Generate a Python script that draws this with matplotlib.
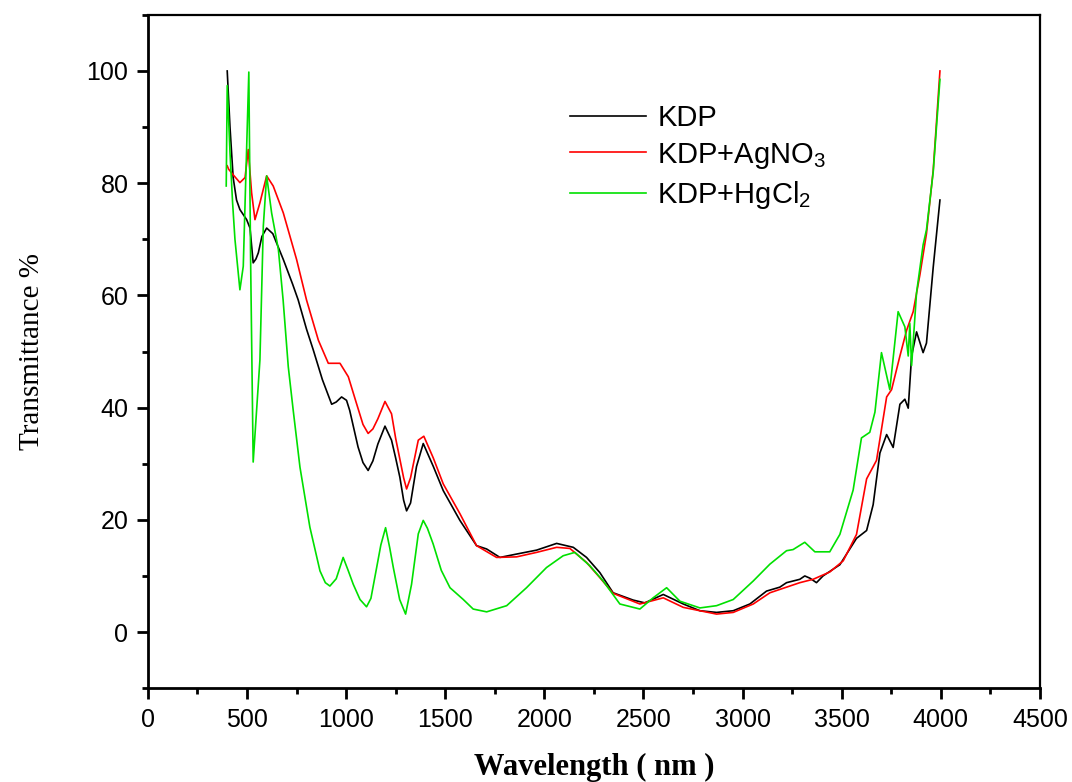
import numpy as np
import matplotlib.pyplot as plt

plt.rcParams['font.family'] = 'Liberation Sans'
plt.rcParams['mathtext.fontset'] = 'custom'
plt.rcParams['mathtext.rm'] = 'Liberation Sans'

# KDP
x_kdp = [400, 414, 430, 447, 464, 498, 515, 531, 545, 557, 575, 599, 630, 683, 730, 758,
         800, 834, 880, 927, 950, 977, 1002, 1018, 1060, 1085, 1111, 1135, 1160, 1196, 1229,
         1250, 1271, 1290, 1305, 1325, 1355, 1389, 1440, 1490, 1574, 1658, 1709, 1776,
         1860, 1961, 2062, 2146, 2213,
         2280, 2347, 2448, 2507, 2600, 2701, 2785, 2869, 2953, 3037, 3121, 3188, 3222,
         3289, 3314, 3340, 3373, 3406, 3491, 3575, 3626, 3659, 3693, 3727, 3760, 3794,
         3819, 3836, 3853, 3878, 3911, 3928, 3962, 3996]
y_kdp = [100, 90, 81, 77, 75.3, 73.5, 72, 65.8, 66.5, 67.6, 70.5, 72.0, 71, 66.4, 62, 59.2,
         54, 50.3, 45, 40.6, 41, 41.9, 41.3, 39.5, 33, 30.2, 28.8, 30.5, 33.5, 36.7, 34.2,
         31, 27.6, 23.5, 21.6, 23, 29.5, 33.6, 29.5, 25.2, 19.9, 15.4, 14.8, 13.3,
         13.9, 14.6, 15.8, 15.1, 13.3,
         10.6, 7.0, 5.7, 5.2, 6.7, 5.0, 3.8, 3.5, 3.8, 5.0, 7.3, 8.0, 8.8,
         9.4, 10.0, 9.6, 8.8, 10.0, 12.0, 16.7, 18.1, 22.7, 31.9, 35.2, 32.9, 40.6,
         41.5, 39.9, 49.2, 53.5, 49.8, 51.5, 65, 77]

# KDP + AgNO3
x_ag = [400, 407, 430, 464, 490, 506, 523, 540, 565, 599, 632, 683, 750, 800, 860, 910,
        969, 1011, 1050, 1085, 1111, 1135, 1160, 1196, 1229, 1250, 1270, 1290, 1305, 1325,
        1364, 1392, 1440, 1490,
        1574, 1658, 1759, 1860, 1961, 2062, 2129, 2213, 2280, 2347, 2482, 2600, 2701,
        2869, 2953, 3054, 3138, 3289, 3356, 3440, 3508, 3575, 3626, 3676, 3727, 3752,
        3794, 3828, 3861, 3895, 3928, 3962, 3996]
y_ag = [83.1, 82.5, 81.5, 80.1, 81, 86.0, 78.3, 73.5, 76.5, 81.3, 79.5, 74.7, 66.4, 59.2, 52, 47.9,
        47.9, 45.5, 41, 37, 35.4, 36.2, 38, 41.1, 38.9, 34.5, 31, 27.5, 25.5, 27.5,
        34.2, 34.9, 31, 26.4,
        21.1, 15.4, 13.3, 13.4, 14.2, 15.1, 14.9, 12.4, 9.7, 6.9, 5.0, 6.1, 4.4,
        3.2, 3.5, 5.0, 7.0, 8.8, 9.4, 10.7, 12.7, 17.4, 27.3, 30.6, 41.9, 43.2,
        49.2, 53.8, 57.1, 63.7, 71.0, 82.3, 100]

# KDP + HgCl2
x_hg = [395, 400, 414, 427, 439, 464, 481, 494, 509, 518, 531, 565, 582, 599, 624, 658,
        682, 708, 733, 767, 817, 868, 895, 918, 950, 985, 1010, 1036, 1070, 1103, 1125,
        1154, 1175, 1199, 1220, 1238, 1270, 1300, 1330, 1364, 1389, 1410, 1439, 1480,
        1524, 1591, 1641, 1709, 1810, 1910, 2011,
        2095, 2154, 2230, 2297, 2381, 2482, 2549, 2617, 2684, 2785, 2869, 2953, 3054,
        3138, 3222, 3255, 3314, 3365, 3440, 3491, 3558, 3600, 3642, 3668, 3701, 3743,
        3785, 3819, 3836, 3844, 3853, 3878, 3911, 3928, 3962, 3996]
y_hg = [79.5, 97.4, 85.5, 76.6, 70, 61.0, 65.2, 81.3, 99.8, 66.4, 30.3, 48.5, 72.3, 81.3, 74.7, 68.2,
        59.2, 47.3, 39.5, 29.4, 18.7, 10.9, 8.8, 8.2, 9.5, 13.3, 11, 8.5, 5.8, 4.5, 6.0,
        11.5, 15.5, 18.6, 15.0, 11.5, 5.8, 3.2, 8.5, 17.5, 19.9, 18.5, 15.7, 11,
        7.9, 5.8, 4.1, 3.6, 4.7, 7.9, 11.5,
        13.6, 14.2, 11.8, 9.1, 5.0, 4.1, 6.1, 7.9, 5.5, 4.3, 4.7, 5.8, 9.1,
        12.1, 14.5, 14.7, 16.0, 14.3, 14.3, 17.4, 25.3, 34.6, 35.6, 39.2, 49.8, 43.2,
        57.1, 54.4, 49.2, 55, 47.5, 60.5, 69, 71.7, 82, 98.5]

fig = plt.figure(figsize=(10.72, 7.82), dpi=100)
ax = fig.add_axes([0.138, 0.12, 0.832, 0.861])

ax.plot(x_kdp, y_kdp, color='black', lw=1.2, label='KDP')
ax.plot(x_ag, y_ag, color='#ff0000', lw=1.2, label=r'KDP+AgNO$_3$')
ax.plot(x_hg, y_hg, color='#00e000', lw=1.2, label=r'KDP+HgCl$_2$')

ax.set_xlim(0, 4500)
ax.set_ylim(-10, 110)
ax.set_xticks(np.arange(0, 4501, 500))
ax.set_xticks(np.arange(250, 4500, 500), minor=True)
ax.set_yticks(np.arange(0, 101, 20))
ax.set_yticks(np.arange(-10, 111, 10), minor=True)

for s in ['left', 'bottom']:
    ax.spines[s].set_linewidth(2.0)
for s in ['top', 'right']:
    ax.spines[s].set_linewidth(1.6)

ax.tick_params(axis='both', which='major', direction='out', length=8, width=2,
               labelsize=18, pad=6)
ax.tick_params(axis='both', which='minor', direction='out', length=4.5, width=2)

ax.set_xlabel('Wavelength ( nm )', family='Liberation Serif', fontweight='bold',
              fontsize=22, labelpad=15)
ax.set_ylabel('Transmittance %', family='Liberation Serif', fontsize=21, labelpad=30)

ax.legend(loc='upper left', bbox_to_anchor=(0.46, 0.885), frameon=False,
          fontsize=21, handlelength=2.6, handletextpad=0.4, labelspacing=0.3,
          borderaxespad=0)

fig.savefig('out.png', dpi=100)
